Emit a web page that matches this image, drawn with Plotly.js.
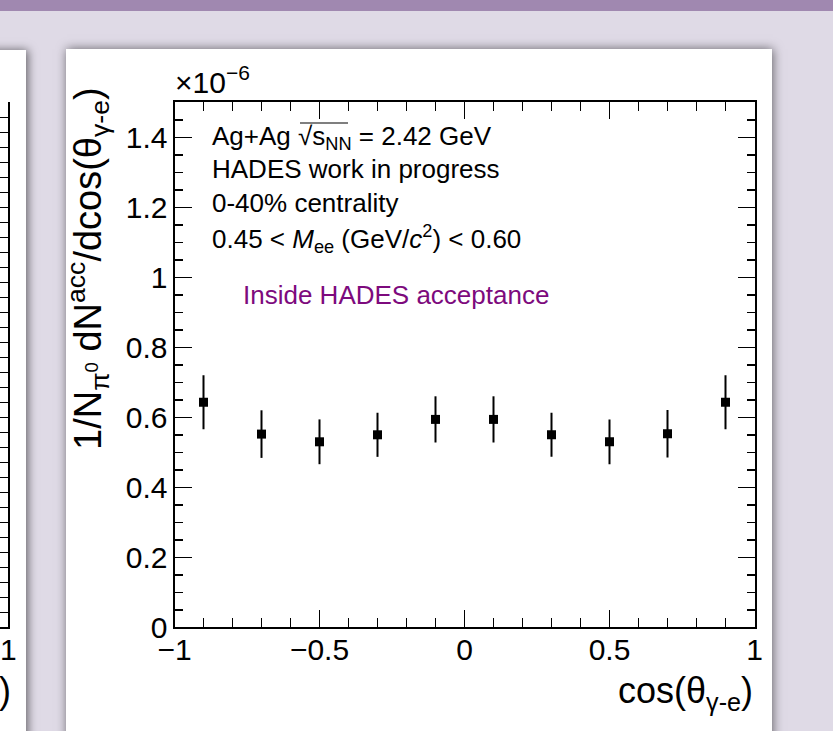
<!DOCTYPE html>
<html>
<head>
<meta charset="utf-8">
<script src="https://cdn.plot.ly/plotly-3.0.1.min.js"></script>
<style>
  html, body { margin:0; padding:0; width:833px; height:731px; overflow:hidden; background:#dfdae6; }
  #band { position:absolute; left:0; top:0; width:833px; height:11px; background:#a088b0; }
  #leftPanel { position:absolute; left:-20px; top:50px; width:46px; height:720px; background:#fff; box-shadow:2px 0 9px rgba(0,0,0,0.55); }
  #mainPanel { position:absolute; left:66px; top:49px; width:706px; height:720px; background:#fff; box-shadow:1px 0 10px rgba(0,0,0,0.55); }
  #chart { position:absolute; left:0; top:0; width:833px; height:731px; }
</style>
</head>
<body>
<div id="band"></div>
<div id="leftPanel"></div>
<div id="mainPanel"></div>
<div id="chart"></div>
<script>
// data (values in units of 1e-6, as on the axis)
const cosTheta = [-0.9, -0.7, -0.5, -0.3, -0.1, 0.1, 0.3, 0.5, 0.7, 0.9];
const yield_ = [0.643, 0.552, 0.530, 0.550, 0.594, 0.594, 0.550, 0.530, 0.553, 0.643];
const yieldErr = [0.077, 0.068, 0.064, 0.063, 0.066, 0.066, 0.063, 0.064, 0.068, 0.077];

const W = 833, H = 731;
const px = v => v / W;
const py = v => 1 - v / H;
const FONT = 'Liberation Sans, Arial, Helvetica, sans-serif';

const trace = {
  x: cosTheta, y: yield_, type: 'scatter', mode: 'markers',
  marker: { symbol: 'square', size: 9, color: '#000' },
  error_y: { type: 'data', array: yieldErr, visible: true, thickness: 2, width: 0, color: '#000' },
  xaxis: 'x', yaxis: 'y', hoverinfo: 'skip', showlegend: false
};
// empty trace so that the neighbouring (cut-off) plot frame is drawn
const neighbour = { x: [], y: [], type: 'scatter', mode: 'markers', xaxis: 'x2', yaxis: 'y2', showlegend: false, hoverinfo: 'skip' };

const axisCommon = {
  showline: true, linecolor: '#000', linewidth: 2, mirror: 'allticks',
  ticks: 'inside', tickcolor: '#000', tickwidth: 1.5, showgrid: false, zeroline: false,
  tickfont: { family: FONT, size: 30, color: '#000' }
};

const layout = {
  width: W, height: H,
  margin: { l: 0, r: 0, t: 0, b: 0 },
  paper_bgcolor: 'rgba(0,0,0,0)', plot_bgcolor: 'rgba(0,0,0,0)',
  showlegend: false,
  xaxis: Object.assign({}, axisCommon, {
    domain: [px(174.5), px(754.5)], anchor: 'y', range: [-1, 1],
    tick0: -1, dtick: 0.5, ticklen: 17, ticklabelstandoff: -5,
    minor: { ticks: 'inside', dtick: 0.1, ticklen: 9, tickwidth: 1.5, tickcolor: '#000', showgrid: false }
  }),
  yaxis: Object.assign({}, axisCommon, {
    domain: [py(627.3), py(102.3)], anchor: 'x', range: [0, 1.5],
    tick0: 0, dtick: 0.2, ticklen: 17, ticklabelstandoff: -1,
    minor: { ticks: 'inside', dtick: 0.05, ticklen: 8, tickwidth: 1.5, tickcolor: '#000', showgrid: false }
  }),
  // fragment of the neighbouring plot on the left
  xaxis2: Object.assign({}, axisCommon, {
    domain: [0, px(8.3)], anchor: 'y2', range: [0.9, 1], tickvals: [1], ticktext: ['1'],
    ticks: '', mirror: false, showline: true, ticklabelstandoff: -5, ticklabeloverflow: 'allow'
  }),
  yaxis2: Object.assign({}, axisCommon, {
    domain: [py(627.3), py(102.3)], anchor: 'x2', side: 'right', range: [0, 35],
    dtick: 1, ticklen: 9, showticklabels: false, mirror: false
  }),
  shapes: [
    // overline of the square-root sign
    { type: 'line', xref: 'paper', yref: 'paper', x0: px(300), x1: px(348), y0: py(123), y1: py(123),
      line: { color: '#000', width: 1.2 } }
  ],
  annotations: [
    { xref: 'paper', yref: 'paper', x: px(173), y: py(101), xanchor: 'left', yanchor: 'bottom',
      text: '×10<sup>−6</sup>', showarrow: false, font: { family: FONT, size: 30, color: '#000' } },
    { xref: 'paper', yref: 'paper', x: px(210), y: py(137), xanchor: 'left', yanchor: 'middle',
      text: 'Ag+Ag √s<sub>NN</sub> = 2.42 GeV', showarrow: false, font: { family: FONT, size: 26, color: '#000' } },
    { xref: 'paper', yref: 'paper', x: px(210), y: py(168.5), xanchor: 'left', yanchor: 'middle',
      text: 'HADES work in progress', showarrow: false, font: { family: FONT, size: 26, color: '#000' } },
    { xref: 'paper', yref: 'paper', x: px(210), y: py(202.5), xanchor: 'left', yanchor: 'middle',
      text: '0-40% centrality', showarrow: false, font: { family: FONT, size: 26, color: '#000' } },
    { xref: 'paper', yref: 'paper', x: px(210), y: py(239), xanchor: 'left', yanchor: 'middle',
      text: '0.45 &lt; <i>M</i><sub>ee</sub> (GeV/<i>c</i><sup>2</sup>) &lt; 0.60', showarrow: false,
      font: { family: FONT, size: 26, color: '#000' } },
    { xref: 'paper', yref: 'paper', x: px(241), y: py(295), xanchor: 'left', yanchor: 'middle',
      text: 'Inside HADES acceptance', showarrow: false, font: { family: FONT, size: 26, color: '#7d0a7d' } },
    { xref: 'paper', yref: 'paper', x: px(755), y: py(693), xanchor: 'right', yanchor: 'middle',
      text: 'cos(θ<sub>γ-e</sub>)', showarrow: false, font: { family: FONT, size: 36, color: '#000' } },
    { xref: 'paper', yref: 'paper', x: px(88), y: py(269), xanchor: 'center', yanchor: 'middle', textangle: -90,
      text: '1/N<sub>π<sup>0</sup></sub> dN<sup>acc</sup>/dcos(θ<sub>γ-e</sub>)', showarrow: false,
      font: { family: FONT, size: 38, color: '#000' } },
    { xref: 'paper', yref: 'paper', x: px(5), y: py(690), xanchor: 'center', yanchor: 'middle',
      text: ')', showarrow: false, font: { family: FONT, size: 36, color: '#000' } }
  ]
};

Plotly.newPlot('chart', [trace, neighbour], layout, { staticPlot: true, displayModeBar: false });
</script>
</body>
</html>
